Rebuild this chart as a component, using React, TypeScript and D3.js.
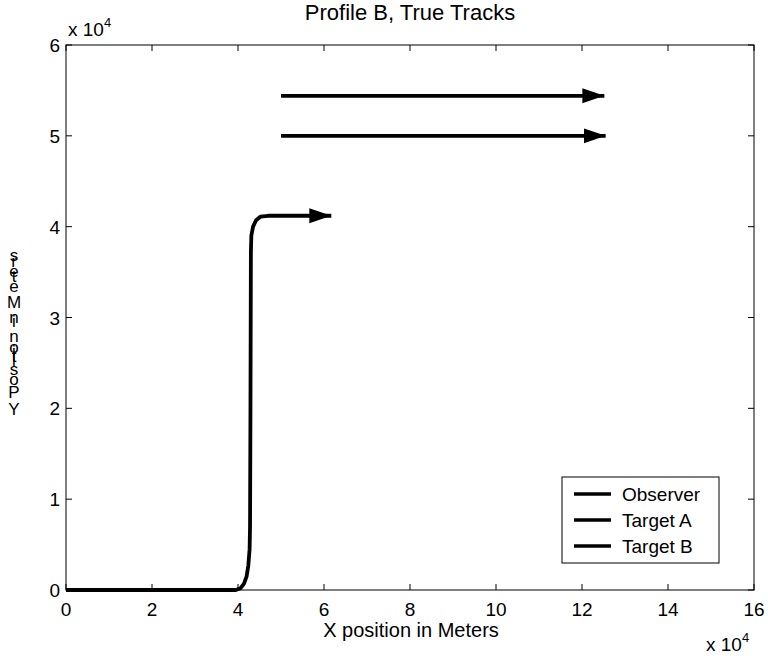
import React, { useEffect, useRef } from 'react'
import * as d3 from 'd3'

// positions in units of 10^4 meters
const observerX = [0, 1, 2, 3, 3.95, 4.06, 4.14, 4.2, 4.24, 4.27, 4.28, 4.29, 4.3, 4.31, 4.35, 4.42, 4.52, 4.7, 6.17]
const observerY = [0, 0, 0, 0, 0, 0.02, 0.07, 0.15, 0.27, 0.45, 0.7, 2.0, 3.72, 3.9, 4.0, 4.07, 4.11, 4.12, 4.12]
const targetAX = [5, 8, 12.52]
const targetAY = [5.44, 5.44, 5.44]
const targetBX = [5, 8, 12.55]
const targetBY = [5.0, 5.0, 5.0]

const seriesNames = ['Observer', 'Target A', 'Target B']
const xTicks = [0, 2, 4, 6, 8, 10, 12, 14, 16]
const yTicks = [0, 1, 2, 3, 4, 5, 6]

const W = 768
const H = 660
const FONT = '"Liberation Sans", Arial, Helvetica, sans-serif'

export default function App() {
  const ref = useRef<SVGSVGElement>(null)

  useEffect(() => {
    const svg = d3.select(ref.current)
    svg.selectAll('*').remove()

    const x = d3.scaleLinear().domain([0, 16]).range([66, 754])
    const y = d3.scaleLinear().domain([0, 6]).range([590, 45])

    // arrow head
    svg.append('defs').append('marker')
      .attr('id', 'arrow')
      .attr('markerUnits', 'userSpaceOnUse')
      .attr('markerWidth', 24)
      .attr('markerHeight', 16)
      .attr('refX', 22)
      .attr('refY', 7.5)
      .attr('orient', 'auto')
      .append('path')
      .attr('d', 'M0,0 L22,7.5 L0,15 Z')
      .attr('fill', '#000')

    // frame
    svg.append('rect')
      .attr('x', x(0)).attr('y', y(6))
      .attr('width', x(16) - x(0)).attr('height', y(0) - y(6))
      .attr('fill', 'none').attr('stroke', '#000').attr('stroke-width', 1)

    const tl = 6
    const axes = svg.append('g').attr('stroke', '#000').attr('stroke-width', 1)
    xTicks.forEach((t) => {
      axes.append('line').attr('x1', x(t)).attr('x2', x(t)).attr('y1', y(0)).attr('y2', y(0) - tl)
      axes.append('line').attr('x1', x(t)).attr('x2', x(t)).attr('y1', y(6)).attr('y2', y(6) + tl)
    })
    yTicks.forEach((t) => {
      axes.append('line').attr('x1', x(0)).attr('x2', x(0) + tl).attr('y1', y(t)).attr('y2', y(t))
      axes.append('line').attr('x1', x(16)).attr('x2', x(16) - tl).attr('y1', y(t)).attr('y2', y(t))
    })

    const text = svg.append('g').attr('font-family', FONT).attr('fill', '#000')
    xTicks.forEach((t) => {
      text.append('text').attr('x', x(t)).attr('y', y(0) + 26)
        .attr('text-anchor', 'middle').attr('font-size', 19).text(t)
    })
    yTicks.forEach((t) => {
      text.append('text').attr('x', x(0) - 6).attr('y', y(t) + 7)
        .attr('text-anchor', 'end').attr('font-size', 19).text(t)
    })

    // exponent labels
    const expTop = text.append('text').attr('x', 68).attr('y', 36).attr('font-size', 19)
    expTop.append('tspan').text('x 10')
    expTop.append('tspan').attr('dy', -9).attr('font-size', 13).text('4')
    const expBot = text.append('text').attr('x', 706).attr('y', 651).attr('font-size', 19)
    expBot.append('tspan').text('x 10')
    expBot.append('tspan').attr('dy', -9).attr('font-size', 13).text('4')

    text.append('text').attr('x', 410).attr('y', 20)
      .attr('text-anchor', 'middle').attr('font-size', 22).text('Profile B, True Tracks')
    text.append('text').attr('x', 411).attr('y', 637)
      .attr('text-anchor', 'middle').attr('font-size', 20).text('X position in Meters')

    // y label: characters stacked upward, each advanced by its own width (as in the original)
    const ylab = 'Y Position in Meters'.split('')
    const ylFont = 17
    let pos = 415
    ylab.forEach((c) => {
      const t = text.append('text').attr('x', 14).attr('y', pos)
        .attr('text-anchor', 'middle').attr('font-size', ylFont).text(c)
      const node = t.node() as SVGTextElement
      const w = c === ' ' ? ylFont * 0.278 : node.getComputedTextLength()
      pos -= w * 1.08
    })

    const line = d3.line<[number, number]>()
      .x((d) => x(d[0]))
      .y((d) => y(d[1]))

    const tracks: [number, number][][] = [
      observerX.map((v, i) => [v, observerY[i]]),
      targetAX.map((v, i) => [v, targetAY[i]]),
      targetBX.map((v, i) => [v, targetBY[i]]),
    ]
    tracks.forEach((pts) => {
      svg.append('path')
        .attr('d', line(pts))
        .attr('fill', 'none')
        .attr('stroke', '#000')
        .attr('stroke-width', 3.8)
        .attr('stroke-linejoin', 'round')
        .attr('marker-end', 'url(#arrow)')
    })

    // legend
    const lg = svg.append('g')
    lg.append('rect').attr('x', 562).attr('y', 477).attr('width', 157).attr('height', 86)
      .attr('fill', '#fff').attr('stroke', '#000').attr('stroke-width', 1)
    seriesNames.forEach((name, i) => {
      const ly = 494 + i * 26
      lg.append('line').attr('x1', 574).attr('x2', 611).attr('y1', ly).attr('y2', ly)
        .attr('stroke', '#000').attr('stroke-width', 3.5)
      lg.append('text').attr('x', 622).attr('y', ly + 7)
        .attr('font-family', FONT).attr('font-size', 19).text(name)
    })
  }, [])

  return (
    <svg ref={ref} width={W} height={H} style={{ display: 'block', position: 'absolute', left: 0, top: 0, background: '#fff' }} />
  )
}
